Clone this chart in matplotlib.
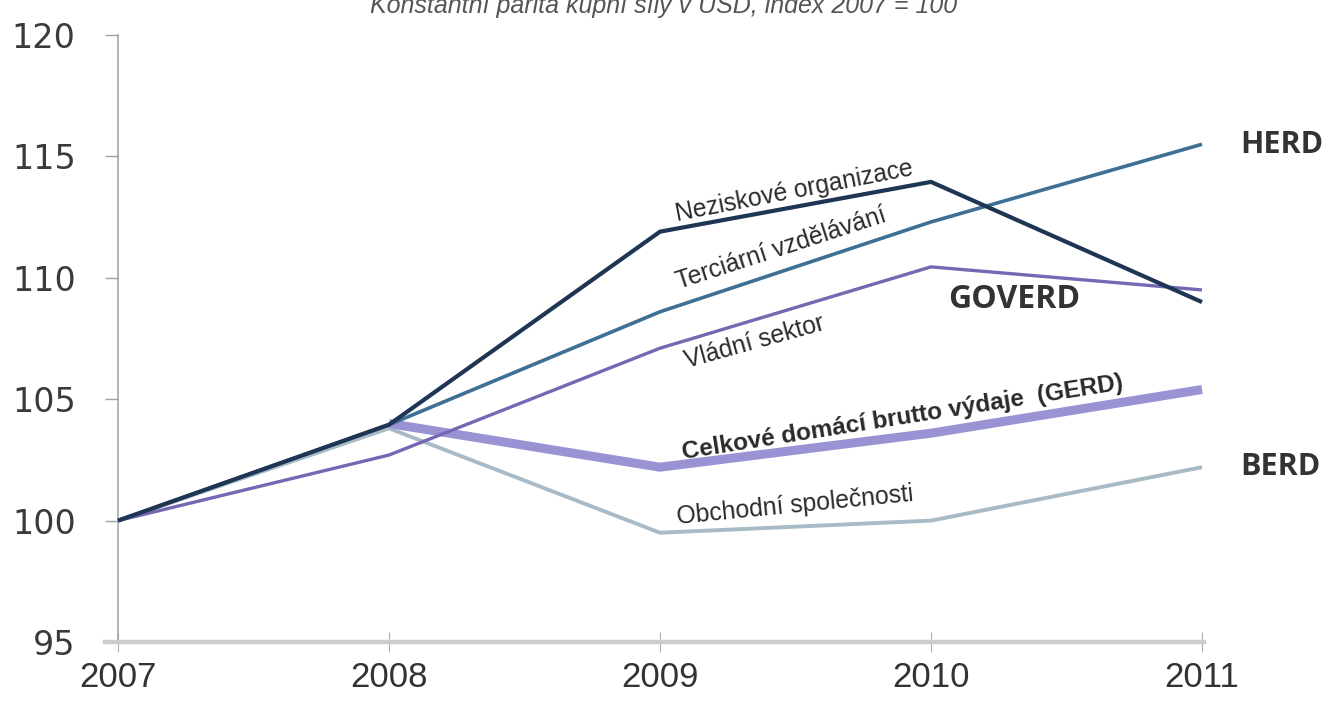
import matplotlib
matplotlib.use("Agg")
import matplotlib.pyplot as plt

years = [2007, 2008, 2009, 2010, 2011]
neziskove = [100, 103.95, 111.9, 113.95, 109.0]
terciarni = [100, 103.95, 108.6, 112.3, 115.5]
vladni = [100, 102.7, 107.1, 110.45, 109.5]
gerd = [100, 104.0, 102.2, 103.6, 105.4]
obchodni = [100, 103.8, 99.5, 100.0, 102.2]

y_ticks = [95, 100, 105, 110, 115, 120]
title = "Konstantní parita kupní síly v USD, index 2007 = 100"

fig = plt.figure(figsize=(13.26, 7.04), dpi=100)
ax = fig.add_axes([105/1326, 62/704, (1204-105)/1326, (642-35)/704])

yr_px = (1202 - 118) / 4
ax.set_xlim(2007 - 13/yr_px, 2011 + 2/yr_px)
ax.set_ylim(95, 120)

c_nez = "#1f3554"
c_ter = "#3e6f95"
c_vla = "#7468b4"
c_gerd = "#9a93d3"
c_obc = "#a8bac6"

ax.plot(years, obchodni, color=c_obc, lw=2.8, zorder=2, solid_capstyle="butt")
ax.plot(years[1:], gerd[1:], color=c_gerd, lw=6.5, zorder=3, solid_capstyle="butt")
ax.plot(years, vladni, color=c_vla, lw=2.4, zorder=4, solid_capstyle="butt")
ax.plot(years, terciarni, color=c_ter, lw=2.6, zorder=5, solid_capstyle="butt")
ax.plot(years, neziskove, color=c_nez, lw=3.0, zorder=6, solid_capstyle="butt")

# spines
for s in ["top", "right"]:
    ax.spines[s].set_visible(False)
ax.spines["left"].set_position(("data", 2007))
ax.spines["left"].set_color("#a0a0a0")
ax.spines["left"].set_linewidth(1.1)
ax.spines["left"].set_bounds(95, 120)
ax.spines["bottom"].set_color("#cdcdcd")
ax.spines["bottom"].set_linewidth(3.2)

ax.set_yticks(y_ticks)
ax.set_yticklabels([str(v) for v in y_ticks])
ax.set_xticks(years)
ax.set_xticklabels([str(y) for y in years])
ax.tick_params(axis="y", direction="out", length=9.5, width=1.0, color="#a0a0a0",
               pad=21, labelsize=24, labelcolor="#3a3a3a")
ax.tick_params(axis="x", direction="inout", length=14, width=0.8, color="#b0b0b0",
               pad=7, labelsize=25, labelcolor="#333333")
for lab in ax.get_xticklabels():
    lab.set_family(["Liberation Sans", "DejaVu Sans"])
for lab in ax.get_yticklabels():
    lab.set_family("DejaVu Sans")

lab_font = ["Liberation Sans", "DejaVu Sans"]
txt_kw = dict(rotation_mode="anchor", ha="left", va="baseline", family=lab_font,
              color="#2a2a2a", zorder=7)

def px2data(px, py):
    return 2007 + (px - 118) / yr_px, 95 + (642 - py) / ((642 - 35) / 25)

x, y = px2data(677, 221)
ax.text(x, y, "Neziskové organizace", rotation=11, fontsize=17.8, **txt_kw)
x, y = px2data(679, 289)
ax.text(x, y, "Terciární vzdělávání", rotation=18, fontsize=17.8, **txt_kw)
x, y = px2data(687, 368)
ax.text(x, y, "Vládní sektor", rotation=15.5, fontsize=17.8, **txt_kw)
x, y = px2data(683, 459)
ax.text(x, y, "Celkové domácí brutto výdaje  (GERD)", rotation=9.0, fontsize=17.6,
        fontweight="bold", **txt_kw)
x, y = px2data(678, 524)
ax.text(x, y, "Obchodní společnosti", rotation=5.6, fontsize=17.8, **txt_kw)

side_kw = dict(ha="left", va="center", fontweight="bold",
               family=["Open Sans", "DejaVu Sans"], color="#333333", clip_on=False)
x, y = px2data(1240, 145)
ax.text(x, y, "HERD", fontsize=22, **side_kw)
x, y = px2data(948, 300)
ax.text(x, y, "GOVERD", fontsize=23, **side_kw)
x, y = px2data(1240, 467)
ax.text(x, y, "BERD", fontsize=22, **side_kw)

fig.text(664/1326, 1 - 13/704, title, ha="center", va="baseline", fontsize=18,
         style="italic", color="#555555", family=lab_font)

fig.savefig("out.png", dpi=100, facecolor="white")
